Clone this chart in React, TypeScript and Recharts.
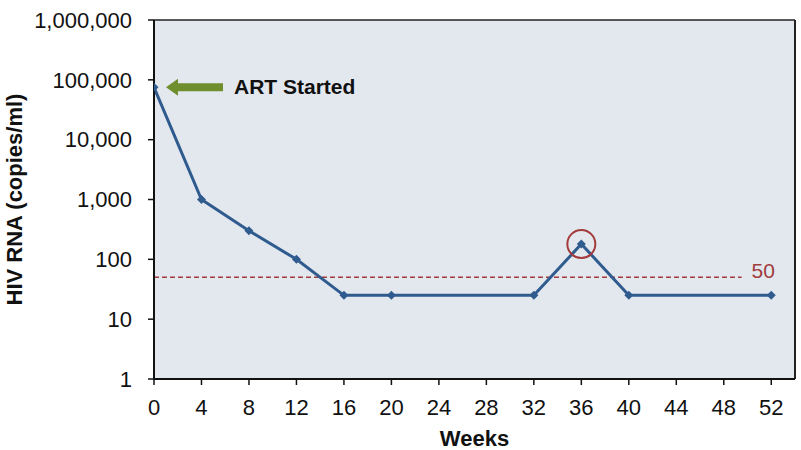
import {
	CartesianGrid,
	Label,
	Line,
	LineChart,
	ReferenceDot,
	ReferenceLine,
	XAxis,
	YAxis,
} from "recharts";

const weeks = [0, 4, 8, 12, 16, 20, 32, 36, 40, 52];
const viralLoad = [75000, 1000, 300, 100, 25, 25, 25, 180, 25, 25];
const weekTicks = [0, 4, 8, 12, 16, 20, 24, 28, 32, 36, 40, 44, 48, 52];
const loadTicks = [1, 10, 100, 1000, 10000, 100000, 1000000];
const threshold = 50;
const thresholdEndWeek = 49.5;
const blipWeek = 36;
const blipValue = 180;
const artLabel = "ART Started";

const data = weeks.map((week, i) => ({ week, load: viralLoad[i] }));

const FONT = "'Liberation Sans', Arial, sans-serif";
const LINE_COLOR = "#2F5B8E";
const RED = "#A23B3B";

function Diamond(props: any) {
	const { cx, cy } = props;
	if (cx == null || cy == null) return null;
	const s = 4.5;
	return (
		<polygon
			points={`${cx},${cy - s} ${cx + s},${cy} ${cx},${cy + s} ${cx - s},${cy}`}
			fill={LINE_COLOR}
		/>
	);
}

function ArtArrow(props: any) {
	const { cx, cy } = props;
	if (cx == null || cy == null) return null;
	const tip = cx + 12;
	const head = tip + 12;
	const tail = cx + 69;
	return (
		<g>
			<polygon
				points={`${tip},${cy} ${head},${cy - 8.5} ${head},${cy - 4} ${tail},${cy - 4} ${tail},${cy + 4} ${head},${cy + 4} ${head},${cy + 8.5}`}
				fill="#6F8F2F"
			/>
			<text
				x={cx + 80}
				y={cy + 7}
				fontFamily={FONT}
				fontSize={21}
				fontWeight="bold"
				fill="#111"
			>
				{artLabel}
			</text>
		</g>
	);
}

export default function App() {
	return (
		<div style={{ position: "absolute", left: 0, top: 0, background: "#fff" }}>
			<LineChart
				width={801}
				height={450}
				data={data}
				margin={{ top: 20, right: 6, bottom: 0, left: 0 }}
			>
				<CartesianGrid horizontal={false} vertical={false} fill="#E3E8EF" stroke="none" />
				<XAxis
					type="number"
					dataKey="week"
					domain={[0, 54]}
					ticks={weekTicks}
					allowDataOverflow
					height={71}
					axisLine={{ stroke: "#111", strokeWidth: 2 }}
					tickLine={{ stroke: "#111", strokeWidth: 1.5 }}
					tickSize={6}
					tickMargin={14}
					tick={{ fill: "#111", fontSize: 22, fontFamily: FONT }}
				>
					<Label
						content={({ viewBox }: any) => (
							<text
								x={viewBox.x + viewBox.width / 2}
								y={446}
								textAnchor="middle"
								fontFamily={FONT}
								fontSize={22}
								fontWeight="bold"
								fill="#111"
							>
								Weeks
							</text>
						)}
					/>
				</XAxis>
				<YAxis
					scale="log"
					domain={[1, 1000000]}
					ticks={loadTicks}
					allowDataOverflow
					width={154}
					axisLine={{ stroke: "#111", strokeWidth: 2 }}
					tickLine={{ stroke: "#111", strokeWidth: 1.5 }}
					tickSize={6}
					tickMargin={16}
					tickFormatter={(v: number) => v.toLocaleString("en-US")}
					tick={{ fill: "#111", fontSize: 22, fontFamily: FONT }}
				>
					<Label
						content={({ viewBox }: any) => {
							const cy = viewBox.y + viewBox.height / 2;
							return (
								<text
									x={22}
									y={cy}
									transform={`rotate(-90, 22, ${cy})`}
									textAnchor="middle"
									fontFamily={FONT}
									fontSize={22}
									fontWeight="bold"
									fill="#111"
								>
									HIV RNA (copies/ml)
								</text>
							);
						}}
					/>
				</YAxis>
				<ReferenceLine y={1000000} stroke="#222" strokeWidth={1.5} />
				<ReferenceLine x={54} stroke="#222" strokeWidth={2} />
				<ReferenceLine
					segment={[
						{ x: 0, y: threshold },
						{ x: thresholdEndWeek, y: threshold },
					]}
					stroke={RED}
					strokeWidth={1.5}
					strokeDasharray="5 3"
					label={
						<Label
							content={({ viewBox }: any) => (
								<text
									x={viewBox.x + viewBox.width + 10}
									y={viewBox.y + 1}
									fontFamily={FONT}
									fontSize={21}
									fill={RED}
								>
									{threshold}
								</text>
							)}
						/>
					}
				/>
				<Line
					type="linear"
					dataKey="load"
					stroke={LINE_COLOR}
					strokeWidth={3}
					dot={<Diamond />}
					activeDot={false}
					isAnimationActive={false}
				/>
				<ReferenceDot
					x={blipWeek}
					y={blipValue}
					r={14}
					fill="none"
					stroke={RED}
					strokeWidth={2}
				/>
				<ReferenceDot
					x={weeks[0]}
					y={viralLoad[0]}
					r={0}
					shape={<ArtArrow />}
				/>
			</LineChart>
		</div>
	);
}
